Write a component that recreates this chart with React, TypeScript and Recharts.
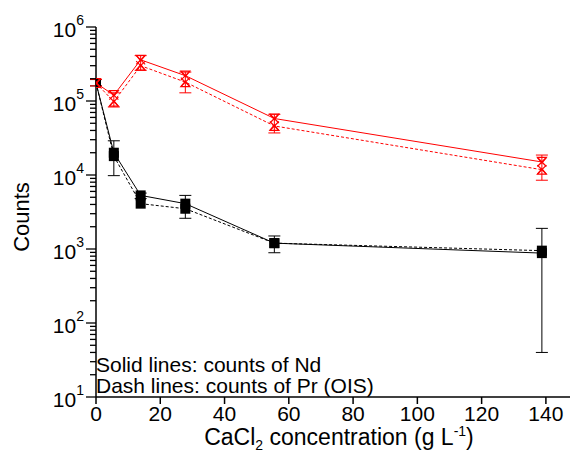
import { LineChart, Line, XAxis, YAxis, ErrorBar } from 'recharts'

// CaCl2 concentration (g/L)
const concentration = [0, 5.55, 13.9, 27.8, 55.5, 138.75]

// black pair
const blackNd = [175000, 20000, 5300, 4100, 1200, 880]
const blackPr = [175000, 18000, 4100, 3500, 1200, 950]
const blackLow = [160000, 9800, 4800, 2600, 890, 40]
const blackHigh = [195000, 29000, 5700, 5300, 1500, 1900]

// red pair
const redNd = [175000, 120000, 360000, 220000, 58000, 15000]
const redPr = [175000, 98000, 300000, 180000, 46000, 11800]
const redLow = [160000, 83000, 260000, 129000, 37000, 8500]
const redHigh = [195000, 129000, 410000, 246000, 66000, 18600]

const xTicks = [0, 20, 40, 60, 80, 100, 120, 140]
const decades = [1, 2, 3, 4, 5, 6]

const yTicks: number[] = []
decades.forEach((d) => {
  const base = Math.pow(10, d)
  yTicks.push(base)
  if (d < 6) for (let m = 2; m <= 9; m++) yTicks.push(base * m)
})

const data = concentration.map((c, i) => ({
  c,
  blackNd: blackNd[i],
  blackPr: blackPr[i],
  blackErr: [blackNd[i] - blackLow[i], blackHigh[i] - blackNd[i]],
  redNd: redNd[i],
  redPr: redPr[i],
  redErr: [redNd[i] - redLow[i], redHigh[i] - redNd[i]],
}))

const RED = '#ff0000'
const font = 'Arial, "Liberation Sans", sans-serif'

const YTick = (props: any) => {
  const { x, y, payload } = props
  const v = payload.value
  const exp = Math.round(Math.log10(v))
  const major = Math.abs(Math.log10(v) - exp) < 1e-6
  return (
    <g>
      <line x1={x - (major ? 10 : 6)} x2={x} y1={y} y2={y} stroke="#000" strokeWidth={1.3} />
      {major && (
        <text x={x - 12} y={y + 10} textAnchor="end" fontSize={21} fontFamily={font} fill="#000">
          <tspan>10</tspan>
          <tspan dy={-12} fontSize={14}>{exp}</tspan>
        </text>
      )}
    </g>
  )
}

const Square = (props: any) => {
  const { cx, cy } = props
  if (cx == null || cy == null) return null
  return <rect x={cx - 5} y={cy - 5} width={10} height={10} fill="#000" />
}

const Cross = (props: any) => {
  const { cx, cy } = props
  if (cx == null || cy == null) return null
  const s = 4.5
  return (
    <g stroke={RED} strokeWidth={1.2} fill="none">
      <line x1={cx - s} y1={cy - s} x2={cx + s} y2={cy + s} />
      <line x1={cx - s} y1={cy + s} x2={cx + s} y2={cy - s} />
      <path d={`M${cx - s},${cy - s} L${cx + s},${cy - s} L${cx},${cy + 1} Z`} />
    </g>
  )
}

const Triangle = (props: any) => {
  const { cx, cy } = props
  if (cx == null || cy == null) return null
  const s = 4.5
  return (
    <g stroke={RED} strokeWidth={1.2} fill="none">
      <path d={`M${cx - s},${cy + s} L${cx + s},${cy + s} L${cx},${cy - 1} Z`} />
      <line x1={cx - s} y1={cy - s} x2={cx + s} y2={cy + s} />
      <line x1={cx - s} y1={cy + s} x2={cx + s} y2={cy - s} />
    </g>
  )
}

const noteStyle = {
  position: 'absolute' as const,
  left: 96,
  fontSize: 21,
  lineHeight: '21px',
  whiteSpace: 'nowrap' as const,
}

export default function App() {
  return (
    <div style={{ position: 'absolute', left: 0, top: 0, width: 571, height: 456, background: '#fff', fontFamily: font }}>
      <LineChart
        width={571}
        height={456}
        data={data}
        margin={{ top: 27, right: 1, bottom: 0, left: 0 }}
      >
        <XAxis
          dataKey="c"
          type="number"
          domain={[0, 147.5]}
          ticks={xTicks}
          allowDataOverflow
          height={59}
          stroke="#000"
          strokeWidth={1.5}
          tickSize={7}
          tickMargin={2}
          tick={{ fill: '#000', fontSize: 21, fontFamily: font }}
        />
        <YAxis
          scale="log"
          domain={[10, 1000000]}
          ticks={yTicks}
          allowDataOverflow
          interval={0}
          width={96}
          stroke="#000"
          strokeWidth={1.5}
          tickLine={false}
          tickSize={0}
          tickMargin={0}
          tick={<YTick />}
        />
        <Line
          dataKey="blackPr"
          type="linear"
          stroke="#000"
          strokeWidth={1}
          strokeDasharray="3 2"
          dot={<Square />}
          isAnimationActive={false}
        />
        <Line
          dataKey="blackNd"
          type="linear"
          stroke="#000"
          strokeWidth={1}
          dot={<Square />}
          isAnimationActive={false}
        >
          <ErrorBar dataKey="blackErr" width={6} stroke="#000" strokeWidth={1} direction="y" />
        </Line>
        <Line
          dataKey="redPr"
          type="linear"
          stroke={RED}
          strokeWidth={1}
          strokeDasharray="3 2"
          dot={<Triangle />}
          isAnimationActive={false}
        />
        <Line
          dataKey="redNd"
          type="linear"
          stroke={RED}
          strokeWidth={1}
          dot={<Cross />}
          isAnimationActive={false}
        >
          <ErrorBar dataKey="redErr" width={6} stroke={RED} strokeWidth={1} direction="y" />
        </Line>
      </LineChart>
      <div
        style={{
          position: 'absolute',
          left: 22,
          top: 217,
          transform: 'translate(-50%, -50%) rotate(-90deg)',
          fontSize: 22,
          whiteSpace: 'nowrap',
        }}
      >
        Counts
      </div>
      <div style={{ ...noteStyle, top: 354 }}>Solid lines: counts of Nd</div>
      <div style={{ ...noteStyle, top: 375 }}>Dash lines: counts of Pr (OIS)</div>
      <div
        style={{
          position: 'absolute',
          left: 339,
          top: 424,
          transform: 'translateX(-50%)',
          fontSize: 23,
          lineHeight: '26px',
          whiteSpace: 'nowrap',
        }}
      >
        CaCl<sub style={{ fontSize: 14, verticalAlign: -5, lineHeight: 0 }}>2</sub> concentration (g L
        <sup style={{ fontSize: 14, verticalAlign: 9, lineHeight: 0 }}>-1</sup>)
      </div>
    </div>
  )
}
